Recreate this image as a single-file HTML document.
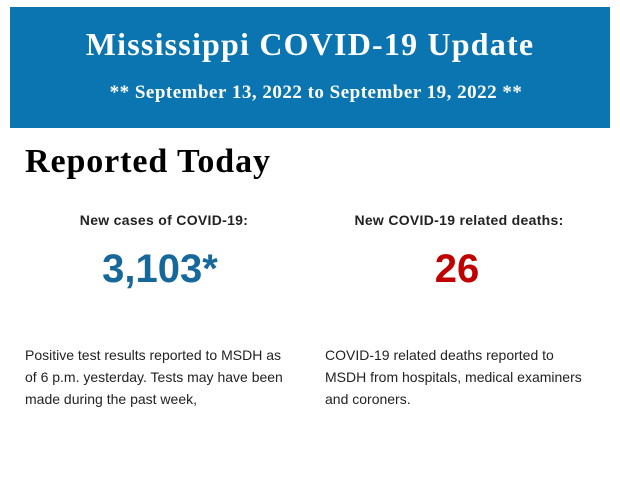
<!DOCTYPE html>
<html><head><style>
body{margin:0;width:620px;height:483px;background:#fff;position:relative;overflow:hidden;font-family:"Liberation Sans",Arial,sans-serif;}
.hdr{position:absolute;left:10px;top:7px;width:600px;height:121px;background:#0a75b0;color:#fff;font-family:"Liberation Serif",serif;font-weight:bold;text-align:center;}
.t1{position:absolute;left:0;right:0;top:19px;font-size:32px;line-height:36px;letter-spacing:1.2px;}
.t2{position:absolute;left:0;right:0;top:74px;font-size:19px;line-height:24px;padding-left:12px;letter-spacing:0.5px;}
h1{position:absolute;left:25px;top:143px;margin:0;font-family:"Liberation Serif",serif;font-size:34px;line-height:38px;font-weight:bold;color:#000;letter-spacing:0.9px;}
.lab{position:absolute;top:212px;width:300px;text-align:center;font-size:14px;font-weight:bold;color:#222;letter-spacing:0.3px;}
.num{position:absolute;top:246px;width:300px;text-align:center;font-size:40px;font-weight:bold;line-height:46px;}
.p{position:absolute;top:344px;width:270px;font-size:14px;line-height:22px;color:#222;}
</style></head><body>
<div class="hdr"><div class="t1">Mississippi COVID-19 Update</div><div class="t2">** September 13, 2022 to September 19, 2022 **</div></div>
<h1>Reported Today</h1>
<div class="lab" style="left:14px">New cases of COVID-19:</div>
<div class="lab" style="left:309px">New COVID-19 related deaths:</div>
<div class="num" style="left:10px;color:#17689a">3,103*</div>
<div class="num" style="left:307px;color:#c00000">26</div>
<div class="p" style="left:25px">Positive test results reported to MSDH as of 6 p.m. yesterday. Tests may have been made during the past week,</div>
<div class="p" style="left:325px">COVID-19 related deaths reported to MSDH from hospitals, medical examiners and coroners.</div>
</body></html>
